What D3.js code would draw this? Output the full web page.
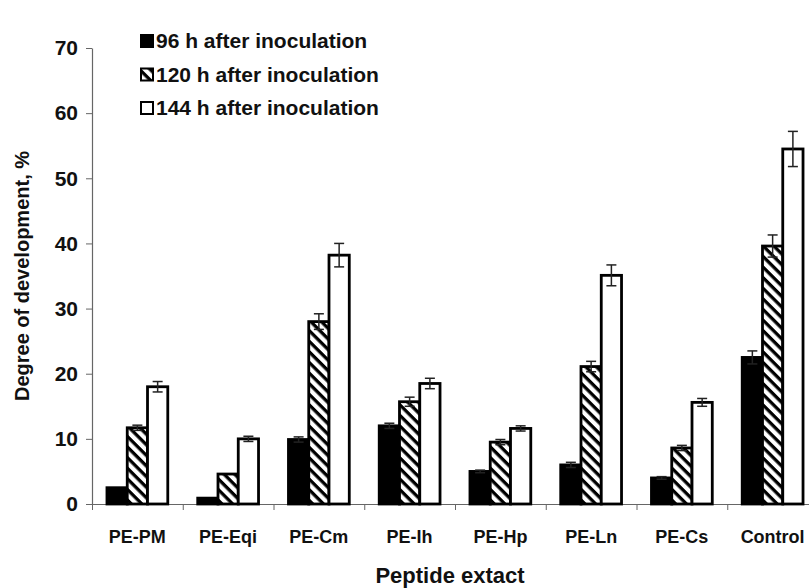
<!DOCTYPE html>
<html>
<head>
<meta charset="utf-8">
<script src="https://cdnjs.cloudflare.com/ajax/libs/d3/7.8.5/d3.min.js"></script>
<style>
  body { margin: 0; background: #fff; }
  text { font-family: "Liberation Sans", Arial, sans-serif; font-weight: bold; fill: #111; }
</style>
</head>
<body>
<div id="chart"></div>
<script>
const categories = ['PE-PM', 'PE-Eqi', 'PE-Cm', 'PE-Ih', 'PE-Hp', 'PE-Ln', 'PE-Cs', 'Control'];
const series = ['96 h after inoculation', '120 h after inoculation', '144 h after inoculation'];
const h96 = [2.5, 0.9, 9.9, 12.0, 5.0, 6.0, 4.0, 22.5];
const h120 = [11.7, 4.6, 28.0, 15.7, 9.5, 21.1, 8.6, 39.6];
const h144 = [18.0, 10.0, 38.2, 18.5, 11.6, 35.1, 15.6, 54.5];
const err96 = [0, 0, 0.4, 0.4, 0.2, 0.4, 0.2, 1.0];
const err120 = [0.4, 0, 1.2, 0.7, 0.4, 0.8, 0.4, 1.7];
const err144 = [0.8, 0.4, 1.8, 0.8, 0.4, 1.6, 0.6, 2.7];
const yTicks = [0, 10, 20, 30, 40, 50, 60, 70];

const w = 809;
const h = 588;
const padLeft = 92;
const padRight = 818;
const padTop = 48;
const baseY = 504;

const values = [h96, h120, h144];
const errs = [err96, err120, err144];
const fills = ['#000', 'url(#hatch)', '#fff'];

const svg = d3.select('#chart')
  .append('svg')
  .attr('width', w)
  .attr('height', h);

// diagonal hatch for the 120 h series, stripes running down to the right
const pat = svg.append('defs').append('pattern')
  .attr('id', 'hatch')
  .attr('patternUnits', 'userSpaceOnUse')
  .attr('width', 7.5)
  .attr('height', 7.5)
  .attr('patternTransform', 'rotate(45)');
pat.append('rect').attr('width', 7.5).attr('height', 7.5).attr('fill', '#fff');
pat.append('rect').attr('width', 7.5).attr('height', 3.3).attr('fill', '#000');

const x0 = d3.scaleBand()
  .domain(categories)
  .range([padLeft, padRight])
  .paddingInner(0.33)
  .paddingOuter(0.165);

const x1 = d3.scaleBand()
  .domain([0, 1, 2])
  .range([0, x0.bandwidth()]);

const xEdge = d3.scaleLinear()
  .domain([0, categories.length])
  .range([padLeft, padRight]);

const y = d3.scaleLinear()
  .domain([0, 70])
  .range([baseY, padTop]);

// y axis
const yAxis = svg.append('g')
  .attr('transform', `translate(${padLeft},0)`)
  .call(d3.axisLeft(y).tickValues(yTicks).tickSize(6).tickSizeOuter(0).tickPadding(8));
yAxis.select('.domain').attr('stroke', '#666').attr('stroke-width', 1.2);
yAxis.selectAll('.tick line').attr('stroke', '#666');
yAxis.selectAll('.tick text').style('font-size', '21px').attr('fill', '#111');

// x axis with ticks at category boundaries
const xAxis = svg.append('g')
  .attr('transform', `translate(0,${baseY})`)
  .call(d3.axisBottom(xEdge).tickValues(d3.range(categories.length + 1)).tickFormat('').tickSize(6).tickSizeOuter(0));
xAxis.select('.domain').attr('stroke', '#666').attr('stroke-width', 1.2);
xAxis.selectAll('.tick line').attr('stroke', '#666');

svg.append('g')
  .selectAll('text')
  .data(categories)
  .enter()
  .append('text')
  .attr('x', d => x0(d) + x0.bandwidth() / 2)
  .attr('y', baseY + 39)
  .attr('text-anchor', 'middle')
  .style('font-size', '18px')
  .text(d => d);

// bars
const groups = svg.append('g')
  .selectAll('g')
  .data(categories)
  .enter()
  .append('g')
  .attr('transform', d => `translate(${x0(d)},0)`);

groups.selectAll('rect')
  .data((d, i) => values.map((s, j) => ({ j: j, v: s[i], e: errs[j][i] })))
  .enter()
  .append('rect')
  .attr('x', d => x1(d.j))
  .attr('y', d => y(d.v))
  .attr('width', x1.bandwidth())
  .attr('height', d => y(0) - y(d.v))
  .attr('fill', d => fills[d.j])
  .attr('stroke', '#000')
  .attr('stroke-width', 2.8);

// error bars
const eb = groups.selectAll('g.err')
  .data((d, i) => values.map((s, j) => ({ j: j, v: s[i], e: errs[j][i] })).filter(d => d.e > 0))
  .enter()
  .append('g')
  .attr('class', 'err')
  .attr('stroke', '#222')
  .attr('stroke-width', 1.5);

eb.append('line')
  .attr('x1', d => x1(d.j) + x1.bandwidth() / 2)
  .attr('x2', d => x1(d.j) + x1.bandwidth() / 2)
  .attr('y1', d => y(d.v + d.e))
  .attr('y2', d => y(d.v - d.e));
eb.append('line')
  .attr('x1', d => x1(d.j) + x1.bandwidth() / 2 - 5)
  .attr('x2', d => x1(d.j) + x1.bandwidth() / 2 + 5)
  .attr('y1', d => y(d.v + d.e))
  .attr('y2', d => y(d.v + d.e));
eb.append('line')
  .attr('x1', d => x1(d.j) + x1.bandwidth() / 2 - 5)
  .attr('x2', d => x1(d.j) + x1.bandwidth() / 2 + 5)
  .attr('y1', d => y(d.v - d.e))
  .attr('y2', d => y(d.v - d.e));

// legend
const legend = svg.append('g')
  .selectAll('g')
  .data(series)
  .enter()
  .append('g')
  .attr('transform', (d, i) => `translate(141,${35 + i * 33.5})`);

legend.append('rect')
  .attr('width', 12)
  .attr('height', 12)
  .attr('fill', (d, i) => fills[i])
  .attr('stroke', '#000')
  .attr('stroke-width', 2);

legend.append('text')
  .attr('x', 15)
  .attr('y', 13)
  .style('font-size', '21px')
  .text(d => d);

// axis titles
svg.append('text')
  .attr('transform', `translate(29,${(padTop + baseY) / 2}) rotate(-90)`)
  .attr('text-anchor', 'middle')
  .style('font-size', '20px')
  .text('Degree of development, %');

svg.append('text')
  .attr('x', 450)
  .attr('y', 583)
  .attr('text-anchor', 'middle')
  .style('font-size', '22px')
  .text('Peptide extact');
</script>
</body>
</html>
